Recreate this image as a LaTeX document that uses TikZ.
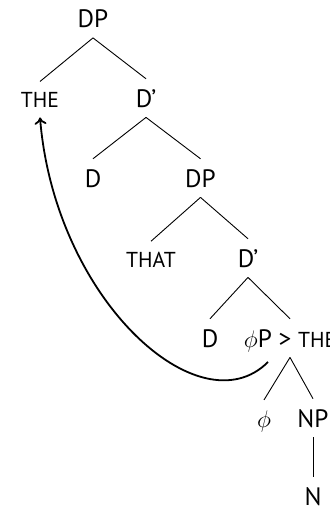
\documentclass[tikz,border=0pt]{standalone}
\usepackage{fontspec}
\setmainfont{PT Sans}
\usetikzlibrary{arrows.meta}
\newcommand{\mysc}[1]{{\fontsize{10.8}{13}\selectfont #1}}
\begin{document}
\begin{tikzpicture}[x=0.5pt,y=-0.5pt,
  lbl/.style={anchor=base,inner xsep=0pt,inner ysep=5pt,text depth=0pt,font=\fontsize{12.6}{15}\selectfont},
  edge/.style={draw,line width=0.45pt},
  mv/.style={line width=0.9pt,-{To[length=3.5pt,width=6pt]}}]
\useasboundingbox (0,0) rectangle (329,508);
\node[lbl] (dp1) at (93,27.5) {DP};
\node[lbl] (the) at (40,107) {\mysc{THE}};
\node[lbl] (db1) at (146,107) {D’};
\node[lbl] (d1) at (93,187) {D};
\node[lbl] (dp2) at (200.5,187) {DP};
\node[lbl] (that) at (151,267) {\mysc{THAT}};
\node[lbl] (db2) at (248,267) {D’};
\node[lbl] (d2) at (210,347) {D};
\node[lbl] (phip) at (290,347) {$\phi$P > \mysc{THE}};
\node[lbl] (phi) at (264,427) {$\phi$};
\node[lbl] (np) at (313,427) {NP};
\node[lbl] (n) at (313,505) {N};
\draw[edge] (dp1.south) -- (the.north);
\draw[edge] (dp1.south) -- (db1.north);
\draw[edge] (db1.south) -- (d1.north);
\draw[edge] (db1.south) -- (dp2.north);
\draw[edge] (dp2.south) -- (that.north);
\draw[edge] (dp2.south) -- (db2.north);
\draw[edge] (db2.south) -- (d2.north);
\draw[edge] (db2.south) -- (phip.north);
\draw[edge] (phip.south) -- (phi.north);
\draw[edge] (phip.south) -- (np.north);
\draw[edge] (np.south) -- (n.north);
\coordinate (mvs) at (268,362);
\draw[mv] (mvs) .. controls (200,430) and (55,300) .. (the.south);
\end{tikzpicture}
\end{document}
